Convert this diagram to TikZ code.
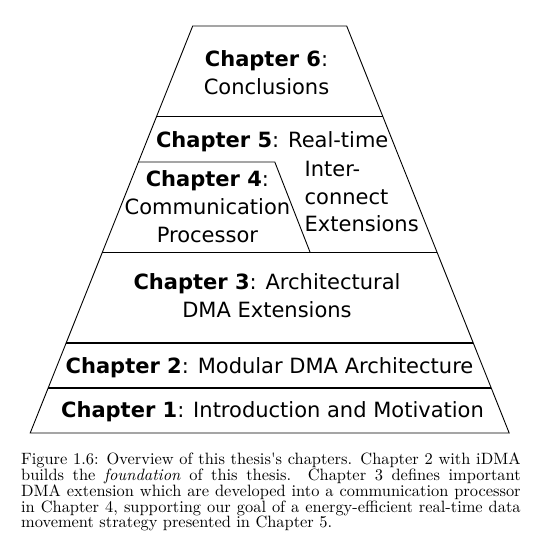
\documentclass[tikz,border=0pt]{standalone}
\usepackage{fontspec}
\newfontfamily\dejavu{DejaVu Sans}
\newfontfamily\capfont{lmroman10-regular.otf}[ItalicFont=lmroman10-italic.otf]
\usetikzlibrary{positioning}

\begin{document}
\begin{tikzpicture}[x=1pt, y=1pt, line width=0.9pt,
    level/.style={font=\dejavu\fontsize{21}{28}\selectfont, align=center, anchor=base, inner sep=0pt},
    sidetext/.style={font=\dejavu\fontsize{21}{27.5}\selectfont, align=left, anchor=base west, inner sep=0pt},
    divider/.style={line width=1.2pt},
    captext/.style={font=\capfont\fontsize{16.4}{15.7}\selectfont, text width=499.5pt, align=justify, anchor=base west, inner sep=0pt}]
    \useasboundingbox (0,0) rectangle (542,560);

    % outline of the pyramid
    \draw (30.2,127) -- (192.7,534) -- (346.7,534) -- (509.2,127) -- cycle;

    % level separators
    \draw[divider] (156.5,443.3) -- (382.9,443.3);
    \draw (138.4,398) -- (274.8,398) -- (310.1,307.7);
    \draw[divider] (102.3,307.7) -- (437.1,307.7);
    \draw[divider] (66.1,217) -- (473.3,217);
    \draw[divider] (48.2,172) -- (491.2,172);

    % chapter labels
    \node[level] (ch6) at (266.5,465) {\textbf{Chapter 6}:\\Conclusions};
    \node[level] (ch5) at (272.2,412) {\textbf{Chapter 5}: Real-time};
    \node[sidetext] (ch5b) at (304.2,328) {Inter-\\connect\\Extensions};
    \node[level] (ch4) at (207.4,317) {\textbf{Chapter 4}:\\Communication\\Processor};
    \node[level] (ch3) at (267,242) {\textbf{Chapter 3}: Architectural\\DMA Extensions};
    \node[level] (ch2) at (269.5,186.7) {\textbf{Chapter 2}: Modular DMA Architecture};
    \node[level] (ch1) at (272.5,142.7) {\textbf{Chapter 1}: Introduction and Motivation};

    % caption
    \node[captext] (cap) at (20.7,95) {\tolerance=10000\hbadness=10000
      Figure 1.6: Overview of this thesis's chapters. Chapter 2 with iDMA\linebreak
      builds the \emph{foundation} of this thesis. Chapter 3 defines important\linebreak
      DMA extension which are developed into a communication processor\linebreak
      in Chapter 4, supporting our goal of a energy-efficient real-time data\linebreak
      movement strategy presented in Chapter 5.};
\end{tikzpicture}
\end{document}
